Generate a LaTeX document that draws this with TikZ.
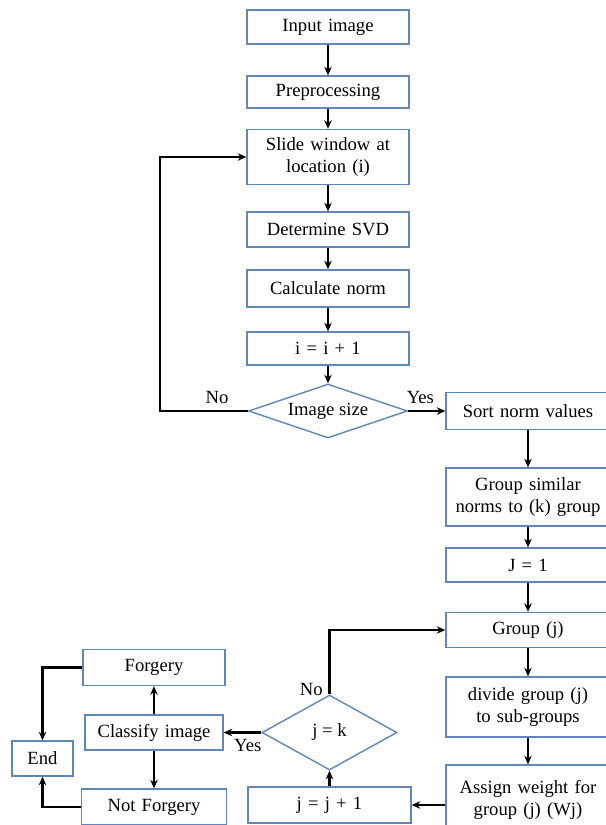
\documentclass[tikz,border=0pt]{standalone}
\usepackage{fontspec}
\setmainfont{Liberation Serif}
\usepackage{tikz}
\usetikzlibrary{positioning,shapes.geometric,arrows.meta}
\definecolor{boxblue}{RGB}{96,134,186}
\tikzset{>={Stealth[length=1.7mm,width=1.5mm]}}
\tikzstyle{block} = [rectangle, draw=boxblue, line width=0.8pt, fill=white,
    text width=2.9cm, text centered, inner xsep=0.17cm, inner ysep=0.1cm, minimum height=0.7cm]
\tikzstyle{decision} = [diamond, draw=boxblue, line width=0.8pt, fill=white,
    text centered, inner sep=0pt]

\begin{document}
\begin{tikzpicture}[node distance = 1.3cm, auto, font=\fontsize{10.6}{12.5}\selectfont]
  \useasboundingbox (-6.56,0.54) rectangle (5.56,-15.96);
  \clip (-6.56,0.54) rectangle (5.56,-15.96);

  \node [block, minimum height=0.68cm] (n1) {Input image};
  \node [block, below of=n1, minimum height=0.64cm] (n2) {Preprocessing};
  \node [block, below of=n2, minimum height=1.1cm] (n3) {Slide window at\\ location (i)};
  \node [block, below of=n3, yshift=-0.15cm] (n4) {Determine SVD};
  \node [block, below of=n4, yshift=0.12cm, minimum height=0.74cm] (n5) {Calculate norm};
  \node [block, below of=n5, yshift=0.1cm, minimum height=0.66cm] (n6) {i = i + 1};
  \node [decision, below of=n6, yshift=0.05cm, aspect=2.9,
    minimum width=3.18cm, minimum height=1.08cm] (d1) {Image size};

  \node [block, node distance=4cm, right of=d1, text width=2.94cm, minimum height=0.74cm] (n7) {Sort norm values};
  \node [block, below of=n7, yshift=-0.42cm, text width=2.94cm, minimum height=1.16cm] (n8) {Group similar\\ norms to (k) group};
  \node [block, below of=n8, yshift=-0.06cm, text width=2.94cm, minimum height=0.68cm] (n9) {J = 1};
  \node [block, below of=n9, text width=2.94cm] (n10) {Group (j)};
  \node [block, below of=n10, yshift=-0.24cm, text width=2.94cm, minimum height=1.2cm] (n11) {divide group (j)\\ to sub-groups};
  \node [block, below of=n11, yshift=-0.56cm, text width=2.94cm, minimum height=1.4cm] (n12) {Assign weight for\\ group (j) (Wj)};

  \node [block, node distance=3.97cm, left of=n12, yshift=-0.1cm, text width=2.92cm, minimum height=0.72cm] (n13) {j = j + 1};
  \node [decision, above of=n13, yshift=0.15cm, aspect=1.8,
    minimum width=2.7cm, minimum height=1.5cm] (d2) {j = k};
  \node [block, node distance=3.51cm, left of=d2, text width=2.42cm] (n14) {Classify image};
  \node [block, above of=n14, text width=2.5cm, minimum height=0.72cm] (n15) {Forgery};
  \node [block, below of=n14, yshift=-0.19cm, text width=2.56cm, minimum height=0.72cm] (n16) {Not Forgery};
  \node [block, node distance=2.23cm, left of=n14, yshift=-0.52cm, text width=0.88cm] (n17) {End};

 \path[->,very thick] (n1) edge (n2);
 \path[->,very thick] (n2) edge (n3);
 \path[->,very thick] (n3) edge (n4);
 \path[->,very thick] (n4) edge (n5);
 \path[->,very thick] (n5) edge (n6);
 \path[->,very thick] (n6) edge (d1);
 \draw[->,very thick] (d1.west) -- node[above, pos=0.35] {No} ++(-1.76,0) |- (n3.west);
 \draw[->,very thick] (d1.east) -- node[above, pos=0.33] {Yes} (n7.west);

 \path[->,very thick] (n7) edge (n8);
 \path[->,very thick] (n8) edge (n9);
 \path[->,very thick] (n9) edge (n10);
 \path[->,very thick] (n10) edge (n11);
 \path[->,very thick] (n11) edge (n12);
 \draw[->,very thick] (n12.west |- n13.east) -- (n13.east);
 \path[->,very thick] (n13) edge (d2);
 \draw[->,very thick] (d2.north) |- node[pos=0.04, left] {No} (n10.west);
 \draw[->,very thick] (d2.west) -- node[below, pos=0.36] {Yes} (n14.east);

 \path[->,very thick] (n14) edge (n15);
 \path[->,very thick] (n14) edge (n16);
 \draw[->,very thick] (n15.west) -| (n17.north);
 \draw[->,very thick] (n16.west) -| (n17.south);
\end{tikzpicture}
\end{document}
